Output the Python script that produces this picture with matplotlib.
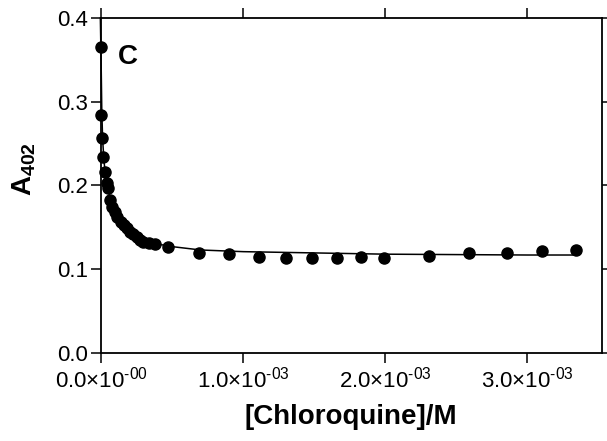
import matplotlib
matplotlib.use("Agg")
import matplotlib.pyplot as plt

plt.rcParams['font.family'] = ['Liberation Sans', 'DejaVu Sans']
plt.rcParams['mathtext.fontset'] = 'custom'
plt.rcParams['mathtext.rm'] = 'Liberation Sans'
plt.rcParams['mathtext.bf'] = 'Liberation Sans:bold'

# measured data (x in units of 1e-3 M)
conc_mM = [0.0, 0.0, 0.003, 0.016, 0.025, 0.042, 0.051, 0.065, 0.077, 0.094,
           0.113, 0.136, 0.157, 0.183, 0.206, 0.227, 0.253, 0.276, 0.297,
           0.333, 0.382, 0.472, 0.691, 0.902, 1.108, 1.300, 1.483, 1.661,
           1.831, 1.992, 2.304, 2.590, 2.855, 3.101, 3.340]
absorb = [0.365, 0.284, 0.257, 0.234, 0.216, 0.203, 0.197, 0.183, 0.174, 0.168,
          0.162, 0.156, 0.153, 0.149, 0.144, 0.142, 0.139, 0.135, 0.133,
          0.131, 0.130, 0.126, 0.119, 0.118, 0.115, 0.114, 0.114, 0.114,
          0.115, 0.114, 0.116, 0.119, 0.120, 0.122, 0.123]

# fitted curve
fit_x_mM = [-0.006, 0.0, 0.004, 0.01, 0.02, 0.035, 0.05, 0.08, 0.12, 0.17,
            0.22, 0.30, 0.40, 0.50, 0.70, 1.0, 1.5, 2.0, 2.5, 3.0, 3.34]
fit_y = [0.40, 0.34, 0.29, 0.255, 0.228, 0.207, 0.193, 0.176, 0.161, 0.150,
         0.142, 0.135, 0.130, 0.127, 0.123, 0.121, 0.1195, 0.118, 0.1175,
         0.117, 0.117]

xtick_vals = [0.0, 1.0, 2.0, 3.0]
xtick_labels = ['0.0×10$^{\u2010\\mathregular{00}}$', '1.0×10$^{\u2010\\mathregular{03}}$',
                '2.0×10$^{\u2010\\mathregular{03}}$', '3.0×10$^{\u2010\\mathregular{03}}$']
ytick_vals = [0.0, 0.1, 0.2, 0.3, 0.4]
ytick_labels = ['0.0', '0.1', '0.2', '0.3', '0.4']

fig = plt.figure(figsize=(6.07, 4.41), dpi=100)
ax = fig.add_axes([100.5/607, 1 - 353/441, (602 - 100.5)/607, (353 - 18)/441])

ax.plot(fit_x_mM, fit_y, color='black', lw=1.1, zorder=2, clip_on=False)
ax.plot(conc_mM, absorb, 'o', color='black', ms=8, zorder=3, clip_on=False)

ax.set_xlim(-0.005, 3.525)
ax.set_ylim(0.0, 0.4)
ax.set_xticks(xtick_vals)
ax.set_xticklabels(xtick_labels)
ax.set_yticks(ytick_vals)
ax.set_yticklabels(ytick_labels)

ax.tick_params(axis='both', direction='out', length=7, width=1.1, labelsize=16,
               colors='black')
ax.tick_params(axis='x', pad=3)
ax.tick_params(axis='y', pad=2)
ax.tick_params(top=True, right=True, labeltop=False, labelright=False)

for s in ax.spines.values():
    s.set_linewidth(1.3)

ax.set_xlabel('[Chloroquine]/M', fontsize=20, fontweight='bold', labelpad=8)
ax.set_ylabel(r'A$_{\mathbf{402}}$', fontsize=20, fontweight='bold')
ax.yaxis.set_label_coords(-0.125, 0.55)

ax.text(0.055, 0.885, 'C', transform=ax.transAxes, fontsize=20, fontweight='bold',
        ha='center', va='center')

fig.savefig('out.png', dpi=100)
